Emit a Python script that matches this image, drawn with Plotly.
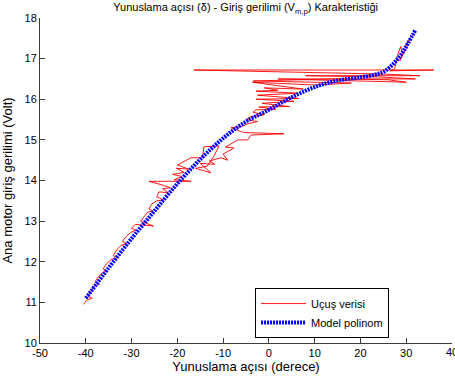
import plotly.graph_objects as go

# Model polynomial curve
model_x = [-40, -35, -30, -25, -20, -15, -10, -5, 0, 5, 10, 15, 20, 23, 25, 27, 29, 30.5, 32]
model_y = [11.1, 11.85, 12.57, 13.25, 13.92, 14.52, 15.04, 15.45, 15.74, 16.05, 16.3, 16.46, 16.54, 16.6, 16.67, 16.85, 17.12, 17.4, 17.7]

# Flight data path
flight_x = [-40.5, -39.8, -38.6, -39.6, -39.0, -38.2, -37.0, -38.0, -37.3, -36.5, -35.5, -36.2,
            -35.5, -34.5, -33.0, -34.0, -33.2, -32.3, -31.0, -32.0, -31.2, -30.2, -29.0, -30.0,
            -29.2, -27.0, -25.2, -28.0, -27.4, -26.5, -25.3, -26.2, -25.6, -24.5, -23.0, -24.5,
            -24.0, -22.0, -23.2, -21.5, -23.0, -26.2, -17.0, -20.7, -19.0, -21.0, -18.5, -20.2,
            -17.5, -20.0, -17.0, -14.5, -14.2, -10.9, -12.0, -13.5, -16.0, -12.7, -15.0, -11.8,
            -13.0, -10.5, -9.0, -10.0, -7.6, -9.5, -6.8, -4.6, -3.9, 3.3, -5.5, -8.3,
            -6.1, -4.5, -2.5, -5.0, -3.9, -1.0, -3.5, -2.8, 1.5, -2.2, 4.5, -1.5,
            5.5, -2.8, 6.5, -2.5, 6.3, -2.8, 2.0, -1.0, 7.5, -3.6, 10.0, 18.0,
            -3.4, 14.0, 26.0, 30.0, 2.0, 32.0, 24.0, 8.0, 33.0, 25.0, -16.4, 36.0,
            26.5, 27.5, 28.0, 28.8, 29.2, 28.6, 30.0, 30.5, 29.8, 31.2, 31.8]
flight_y = [10.95, 11.05, 11.1, 11.15, 11.25, 11.4, 11.45, 11.5, 11.62, 11.72, 11.78, 11.82,
            11.95, 12.05, 12.1, 12.15, 12.3, 12.4, 12.45, 12.5, 12.62, 12.72, 12.78, 12.82,
            12.92, 12.9, 12.88, 13.0, 13.1, 13.22, 13.25, 13.3, 13.42, 13.5, 13.52, 13.6,
            13.72, 13.7, 13.8, 13.82, 13.88, 13.98, 13.98, 14.02, 14.1, 14.15, 14.2, 14.3,
            14.28, 14.38, 14.56, 14.56, 14.83, 14.85, 14.6, 14.35, 14.3, 14.19, 14.42, 14.4,
            14.48, 14.56, 14.5, 14.65, 14.8, 14.82, 15.0, 15.0, 15.12, 15.15, 15.18, 15.3,
            15.32, 15.4, 15.45, 15.5, 15.57, 15.62, 15.68, 15.74, 15.75, 15.81, 15.82, 15.9,
            15.95, 16.0, 16.02, 16.1, 16.15, 16.2, 16.22, 16.28, 16.25, 16.42, 16.35, 16.4,
            16.45, 16.5, 16.48, 16.42, 16.5, 16.5, 16.55, 16.58, 16.58, 16.62, 16.72, 16.72,
            16.7, 16.75, 17.05, 17.3, 17.1, 16.95, 17.25, 17.45, 17.3, 17.55, 17.65]

x_ticks = [-50, -40, -30, -20, -10, 0, 10, 20, 30, 40]
y_ticks = [10, 11, 12, 13, 14, 15, 16, 17, 18]

fig = go.Figure()
fig.add_trace(go.Scatter(x=flight_x, y=flight_y, mode="lines", name="Uçuş verisi",
                         line=dict(color="rgb(255,0,0)", width=0.9)))
fig.add_trace(go.Scatter(x=model_x, y=model_y, mode="lines", name="Model polinom",
                         line=dict(color="rgb(0,0,255)", width=4, dash="2px,1px", shape="spline")))

font = dict(family="Liberation Sans, Arial, sans-serif", size=11, color="black")
# last x tick label drawn as annotation (plotly hides labels overflowing the page)
x_text = [str(v) for v in x_ticks[:-1]] + [""]
fig.add_annotation(x=x_ticks[-1], y=0, xref="x", yref="paper", text=str(x_ticks[-1]),
                   showarrow=False, xanchor="center", yanchor="top", yshift=-1, font=font)

fig.update_layout(
    width=455, height=389,
    margin=dict(l=40, r=3, t=18, b=46),
    paper_bgcolor="white", plot_bgcolor="white",
    font=font,
    title=dict(text="Yunuslama açısı (δ) - Giriş gerilimi (V<sub>m,p</sub>) Karakteristiği",
               x=0.54, xanchor="center", y=0.981, yanchor="middle", font=font),
    xaxis=dict(range=[-50, 40], tickvals=x_ticks, ticktext=x_text,
               showgrid=False, zeroline=False, showline=True, linecolor="rgb(60,60,60)",
               linewidth=1, ticks="inside", ticklen=5, tickcolor="rgb(60,60,60)",
               title=dict(text="Yunuslama açısı (derece)", standoff=2), mirror=False),
    yaxis=dict(range=[10, 18], tickvals=y_ticks, ticktext=[str(v) for v in y_ticks],
               showgrid=False, zeroline=False, showline=True, linecolor="rgb(60,60,60)",
               linewidth=1, ticks="inside", ticklen=5, tickcolor="rgb(60,60,60)",
               title=dict(text="Ana motor giriş gerilimi (Volt)", standoff=8), mirror=False),
    legend=dict(x=0.522, y=0.169, xanchor="left", yanchor="top", bgcolor="white",
                bordercolor="black", borderwidth=1, font=font, tracegroupgap=2,
                itemwidth=45),
    showlegend=True,
)
fig.write_html("out.html")
